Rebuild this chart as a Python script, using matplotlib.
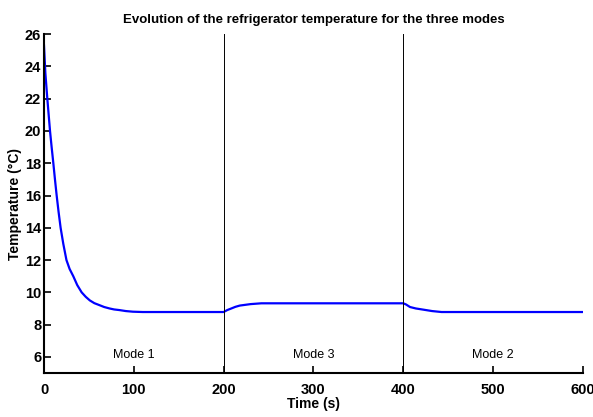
import matplotlib
matplotlib.use('Agg')
import matplotlib.pyplot as plt

time = [0, 1.5, 3.7, 5.2, 6.7, 8.5, 10.4, 12.2, 14.1, 16.2, 18.5, 21.5, 25,
        28.5, 32.6, 37, 41.9, 46.5, 51, 56, 62, 67, 73, 78, 84, 91, 99, 110,
        200, 204, 209, 213, 218, 230, 242, 400, 403, 407.5, 414, 422, 432, 442.6, 600]
temp = [25.3, 23.6, 22, 21, 20, 19, 18, 17, 16, 15, 14, 13, 12,
        11.45, 11, 10.45, 10, 9.72, 9.5, 9.33, 9.2, 9.09, 9.0, 8.94, 8.9, 8.84, 8.8, 8.78,
        8.78, 8.9, 9.01, 9.1, 9.18, 9.27, 9.32, 9.32, 9.25, 9.09, 9.0, 8.93, 8.84, 8.78, 8.78]

mode_bounds = [200, 400]
mode_names = ['Mode 1', 'Mode 3', 'Mode 2']
mode_centres = [100, 300, 500]

plt.rcParams['font.family'] = ['Liberation Sans', 'DejaVu Sans']

fig = plt.figure(figsize=(5.93, 4.17), dpi=100)
ax = fig.add_axes([0.0742, 0.1055, 0.9088, 0.8125])

ax.plot(time, temp, color='#0000ff', lw=1.6)
for b in mode_bounds:
    ax.axvline(b, color='black', lw=0.7)
for name, c in zip(mode_names, mode_centres):
    ax.text(c, 6.1, name, ha='center', va='center', fontsize=9)

ax.set_xlim(0, 600)
ax.set_ylim(5, 26)
ax.set_xticks(range(0, 601, 100))
ax.set_yticks(range(6, 27, 2))
ax.spines['top'].set_visible(False)
ax.spines['right'].set_visible(False)
ax.spines['left'].set_linewidth(1.5)
ax.spines['bottom'].set_linewidth(1.5)
ax.tick_params(direction='in', length=5, width=1.2, labelsize=10.5)
for lab in ax.get_xticklabels() + ax.get_yticklabels():
    lab.set_fontweight('bold')
ax.tick_params(axis='x', pad=7)
ax.tick_params(axis='y', pad=2)

ax.set_title('Evolution of the refrigerator temperature for the three modes',
             fontsize=9.5, fontweight='bold', pad=8)
ax.set_xlabel('Time (s)', fontsize=10, fontweight='bold', labelpad=0)
ax.set_ylabel('Temperature (\u00b0C)', fontsize=10, fontweight='bold', labelpad=2)

fig.savefig('out.png', dpi=100)
